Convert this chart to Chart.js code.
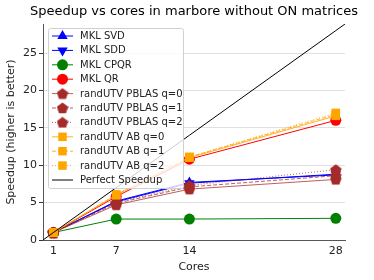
<!DOCTYPE html>
<html>
<head>
<meta charset="utf-8">
<script src="https://cdn.jsdelivr.net/npm/chart.js@4"></script>
<style>
  html, body { margin: 0; padding: 0; background: #fff; }
  #wrap { width: 374px; height: 280px; position: relative; }
</style>
</head>
<body>
<div id="wrap"><canvas id="speedChart" width="374" height="280"></canvas></div>
<script>
const cores = [1, 7, 14, 28];
const perfectCores = [0, 1, 7, 14, 28, 30];
const xTicks = [1, 7, 14, 28];
const yTicks = [0, 5, 10, 15, 20, 25];

const mklSvd = [1, 5.2, 7.7, 8.7];
const mklSdd = [1, 5.1, 7.6, 8.8];
const mklCpqr = [1, 2.8, 2.8, 2.9];
const mklQr = [1, 5.8, 10.8, 16.0];
const pblasQ0 = [1, 4.7, 6.8, 8.1];
const pblasQ1 = [1, 4.9, 7.1, 8.6];
const pblasQ2 = [1, 5.0, 7.3, 9.4];
const abQ0 = [1, 6.0, 11.0, 16.6];
const abQ1 = [1, 6.0, 11.1, 16.8];
const abQ2 = [1, 6.1, 11.1, 17.0];

const labels = ["MKL SVD", "MKL SDD", "MKL CPQR", "MKL QR",
  "randUTV PBLAS q=0", "randUTV PBLAS q=1", "randUTV PBLAS q=2",
  "randUTV AB q=0", "randUTV AB q=1", "randUTV AB q=2", "Perfect Speedup"];

// pentagon marker drawn once on a small canvas
function pentagon(size, color) {
  const c = document.createElement('canvas');
  c.width = size; c.height = size;
  const g = c.getContext('2d');
  const r = size / 2;
  g.beginPath();
  for (let i = 0; i < 5; i++) {
    const a = -Math.PI / 2 + i * 2 * Math.PI / 5;
    const px = r + r * Math.cos(a), py = r + r * Math.sin(a) + 0.5;
    if (i === 0) g.moveTo(px, py); else g.lineTo(px, py);
  }
  g.closePath();
  g.fillStyle = color;
  g.fill();
  return c;
}
const pent = pentagon(12, '#a52a2a');

function pts(xs, ys) { return xs.map((x, i) => ({ x: x, y: ys[i] })); }

function series(label, ys, color, lineColor, style, rot, dash, radius) {
  return {
    label: label,
    data: pts(cores, ys),
    borderColor: lineColor,
    backgroundColor: color,
    pointBackgroundColor: color,
    pointBorderColor: color,
    pointStyle: style,
    rotation: rot,
    pointRadius: radius,
    pointBorderWidth: 0,
    borderWidth: 1,
    borderDash: dash,
    tension: 0
  };
}

const brownLine = 'rgba(165,42,42,0.75)';
const orangeLine = 'rgba(255,165,0,0.85)';

const datasets = [
  series(labels[0], mklSvd, '#0000ff', '#0000ff', 'triangle', 0, [], 6),
  series(labels[1], mklSdd, '#0000ff', '#0000ff', 'triangle', 180, [], 6),
  series(labels[2], mklCpqr, '#008000', '#008000', 'circle', 0, [], 5.5),
  series(labels[3], mklQr, '#ff0000', '#ff0000', 'circle', 0, [], 5.5),
  series(labels[4], pblasQ0, '#a52a2a', brownLine, pent, 0, [], 6),
  series(labels[5], pblasQ1, '#a52a2a', brownLine, pent, 0, [4, 2], 6),
  series(labels[6], pblasQ2, '#a52a2a', brownLine, pent, 0, [1, 2], 6),
  series(labels[7], abQ0, '#ffa500', orangeLine, 'rect', 0, [], 6),
  series(labels[8], abQ1, '#ffa500', orangeLine, 'rect', 0, [4, 2], 6),
  series(labels[9], abQ2, '#ffa500', orangeLine, 'rect', 0, [1, 2], 6),
  {
    label: labels[10],
    data: pts(perfectCores, perfectCores),
    borderColor: '#000',
    borderWidth: 1,
    pointRadius: 0,
    tension: 0
  }
];
// later series on top, like matplotlib
datasets.forEach((d, i) => { d.order = datasets.length - i; });

const font = "'DejaVu Sans'";

const legendBox = {
  id: 'legendBox',
  afterDatasetsDraw(chart) {
    const ctx = chart.ctx;
    const x0 = 48, y0 = 28, w = 135, h = 160;
    ctx.save();
    ctx.fillStyle = 'rgba(255,255,255,0.8)';
    ctx.strokeStyle = '#d0d0d0';
    ctx.lineWidth = 1;
    ctx.beginPath();
    ctx.roundRect(x0 + 0.5, y0 + 0.5, w, h, 2);
    ctx.fill();
    ctx.stroke();
    ctx.font = '10px ' + font;
    ctx.textBaseline = 'middle';
    chart.data.datasets.forEach((d, i) => {
      const cy = 36 + i * 14.4;
      ctx.strokeStyle = d.borderColor;
      ctx.lineWidth = 1;
      ctx.setLineDash(d.borderDash || []);
      ctx.beginPath();
      ctx.moveTo(52, cy);
      ctx.lineTo(73, cy);
      ctx.stroke();
      ctx.setLineDash([]);
      if (d.pointRadius > 0) {
        ctx.fillStyle = d.pointBackgroundColor;
        ctx.strokeStyle = d.pointBackgroundColor;
        Chart.helpers.drawPoint(ctx, {
          pointStyle: d.pointStyle,
          rotation: d.rotation,
          radius: d.pointRadius,
          borderWidth: 0
        }, 62.5, cy);
      }
      ctx.fillStyle = '#222';
      ctx.fillText(d.label, 80, cy + 0.5);
    });
    ctx.restore();
  }
};

const titlePlugin = {
  id: 'topTitle',
  afterDraw(chart) {
    const ctx = chart.ctx;
    ctx.save();
    ctx.font = '13px ' + font;
    ctx.fillStyle = '#000';
    ctx.textAlign = 'center';
    ctx.textBaseline = 'middle';
    ctx.fillText('Speedup vs cores in marbore without ON matrices', 194, 12);
    ctx.restore();
  }
};

new Chart(document.getElementById('speedChart'), {
  type: 'line',
  data: { datasets: datasets },
  plugins: [legendBox, titlePlugin],
  options: {
    responsive: false,
    animation: false,
    layout: { padding: { top: 24, right: 29, left: 5, bottom: 6 } },
    plugins: { legend: { display: false }, tooltip: { enabled: false } },
    scales: {
      x: {
        type: 'linear',
        min: 0,
        max: 28.88,
        afterBuildTicks: s => { s.ticks = xTicks.map(v => ({ value: v })); },
        afterFit: s => { s.height = 34; },
        grid: { display: false, drawTicks: true, tickLength: 4, tickColor: '#333' },
        border: { color: '#555', width: 1 },
        ticks: { color: '#222', font: { family: font, size: 11 }, padding: 1, maxRotation: 0 },
        title: { display: true, text: 'Cores', color: '#222', font: { family: font, size: 11 }, padding: { top: 0, bottom: 0 } }
      },
      y: {
        min: 0,
        max: 28.88,
        afterBuildTicks: s => { s.ticks = yTicks.map(v => ({ value: v })); },
        afterFit: s => { s.width = 38; },
        grid: { color: '#e0e0e0', lineWidth: 1, tickLength: 4, tickColor: '#333' },
        border: { color: '#555', width: 1 },
        ticks: { color: '#222', font: { family: font, size: 11 }, padding: 2 },
        title: { display: true, text: 'Speedup (higher is better)', color: '#222', font: { family: font, size: 11 }, padding: { top: 0, bottom: 0 } }
      }
    }
  }
});
</script>
</body>
</html>
